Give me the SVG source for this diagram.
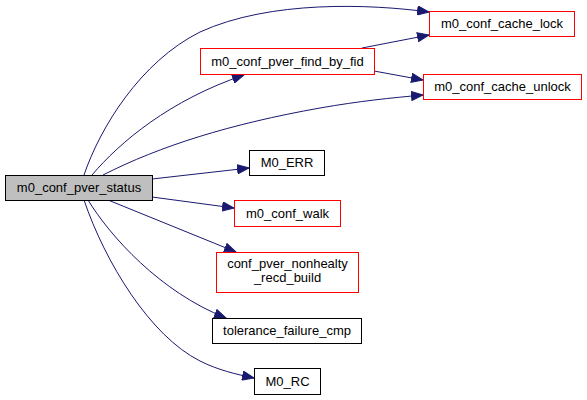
<svg xmlns="http://www.w3.org/2000/svg" width="587" height="400" viewBox="0 0 587 400">
<defs>
<marker id="arr" markerWidth="13" markerHeight="10" refX="12" refY="5" orient="auto" markerUnits="userSpaceOnUse">
<path d="M0.5,0.5 L12,5 L0.5,9.5 Z" fill="#191970" stroke="#191970"/>
</marker>
<style>
.n rect{fill:#fff;stroke:#000;stroke-width:1}
.n.r rect{stroke:#f00}
.n.main rect{fill:#bfbfbf}
.n text{font-family:"Liberation Sans",Arial,sans-serif;font-size:13px;text-anchor:middle;fill:#000}
#edges path{fill:none;stroke:#191970;stroke-width:1;marker-end:url(#arr)}
</style>
</defs>
<rect width="587" height="400" fill="#fff"/>
<g id="edges">
<path d="M84,175 C100,128 140,62 200,32 C270,0 370,4 429,12"/>
<path d="M92,175 C120,142 170,100 244,75"/>
<path d="M103,175 C160,146 230,124 320,108 C360,101 390,98 423,95"/>
<path d="M152,179 L249,168"/>
<path d="M152,197 L234,208"/>
<path d="M108,200 L236,252"/>
<path d="M88,200 C110,236 160,292 226,318"/>
<path d="M84,200 C105,262 150,336 200,361 C218,370 235,374 254,378"/>
<path d="M362,48 L429,35"/>
<path d="M374,71 L423,80"/>
</g>
<g id="m0_conf_pver_status" class="n main"><rect x="5.5" y="175.5" width="147" height="25"/><text x="79" y="192">m0_conf_pver_status</text></g>
<g id="m0_conf_pver_find_by_fid" class="n r"><rect x="200.5" y="48.5" width="174" height="26"/><text x="287.5" y="66">m0_conf_pver_find_by_fid</text></g>
<g id="m0_conf_cache_lock" class="n r"><rect x="429.5" y="11.5" width="145" height="25"/><text x="502" y="28">m0_conf_cache_lock</text></g>
<g id="m0_conf_cache_unlock" class="n r"><rect x="423.5" y="74.5" width="158" height="25"/><text x="502.5" y="91">m0_conf_cache_unlock</text></g>
<g id="M0_ERR" class="n"><rect x="249.5" y="150.5" width="75" height="25"/><text x="287" y="167">M0_ERR</text></g>
<g id="m0_conf_walk" class="n r"><rect x="234.5" y="200.5" width="106" height="26"/><text x="287.5" y="218">m0_conf_walk</text></g>
<g id="conf_pver_nonhealty_recd_build" class="n r"><rect x="216.5" y="252.5" width="142" height="40"/><text x="287.5" y="268">conf_pver_nonhealty</text><text x="287.5" y="282">_recd_build</text></g>
<g id="tolerance_failure_cmp" class="n"><rect x="212.5" y="318.5" width="149" height="25"/><text x="287" y="335">tolerance_failure_cmp</text></g>
<g id="M0_RC" class="n"><rect x="254.5" y="368.5" width="66" height="26"/><text x="287.5" y="386">M0_RC</text></g>
</svg>
